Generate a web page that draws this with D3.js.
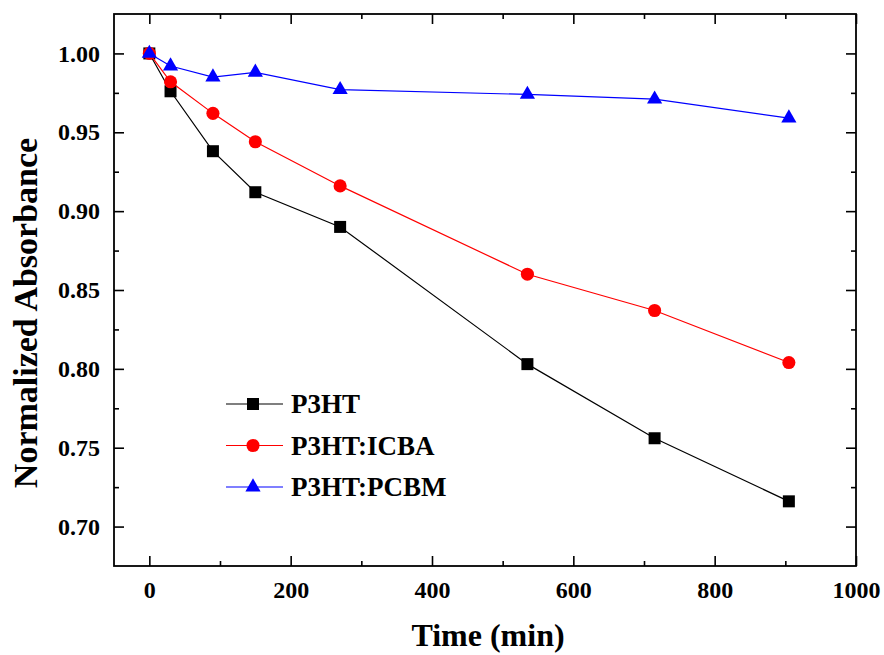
<!DOCTYPE html>
<html>
<head>
<meta charset="utf-8">
<script src="https://cdn.jsdelivr.net/npm/d3@7"></script>
<style>
  body { margin: 0; background: #fff; }
</style>
</head>
<body>
<div id="chart"></div>
<script>
// ---------------- data ----------------
var time  = [0, 30, 90, 150, 270, 535, 715, 905];
var p3ht  = [1.000, 0.976, 0.938, 0.912, 0.890, 0.803, 0.756, 0.716];
var icba  = [1.000, 0.982, 0.962, 0.944, 0.916, 0.860, 0.837, 0.804];
var pcbm  = [1.000, 0.992, 0.985, 0.988, 0.977, 0.974, 0.971, 0.959];
var seriesNames = ["P3HT", "P3HT:ICBA", "P3HT:PCBM"];

var xMajor = [0, 200, 400, 600, 800, 1000];
var xMinor = [100, 300, 500, 700, 900];
var yMajor = [0.70, 0.75, 0.80, 0.85, 0.90, 0.95, 1.00];
var yMinor = [0.725, 0.775, 0.825, 0.875, 0.925, 0.975];

var FONT = '"Liberation Serif", "Times New Roman", serif';

// ---------------- layout ----------------
var W = 884, H = 655;
var margin = {top: 14, right: 28, bottom: 89, left: 114};
var w = W - margin.left - margin.right;
var h = H - margin.top - margin.bottom;

var svg = d3.select("#chart").append("svg").attr("width", W).attr("height", H)
  .style("font-family", FONT).style("font-weight", "bold");
var g = svg.append("g").attr("transform", `translate(${margin.left},${margin.top})`);

var x = d3.scaleLinear().domain([-50, 1000]).range([0, w]);
var y = d3.scaleLinear().domain([0.675, 1.025]).range([h, 0]);

// ---------------- axes ----------------
function styleAxis(sel) {
  sel.attr("font-family", FONT).attr("font-size", 24).attr("font-weight", "bold");
  sel.select(".domain").remove();
  sel.selectAll(".tick line").attr("stroke", "#000").attr("stroke-width", 1.6);
  sel.selectAll(".tick text").attr("fill", "#000");
}

// bottom (with labels)
g.append("g").attr("transform", `translate(0,${h})`)
  .call(d3.axisBottom(x).tickValues(xMajor).tickSize(-10).tickPadding(15).tickFormat(d3.format("d")))
  .call(styleAxis);
g.append("g").attr("transform", `translate(0,${h})`)
  .call(d3.axisBottom(x).tickValues(xMinor).tickSize(-5).tickFormat(""))
  .call(styleAxis);
// top
g.append("g")
  .call(d3.axisTop(x).tickValues(xMajor).tickSize(-10).tickFormat(""))
  .call(styleAxis);
g.append("g")
  .call(d3.axisTop(x).tickValues(xMinor).tickSize(-5).tickFormat(""))
  .call(styleAxis);
// left (with labels)
g.append("g")
  .call(d3.axisLeft(y).tickValues(yMajor).tickSize(-10).tickPadding(14).tickFormat(d3.format(".2f")))
  .call(styleAxis);
g.append("g")
  .call(d3.axisLeft(y).tickValues(yMinor).tickSize(-5).tickFormat(""))
  .call(styleAxis);
// right
g.append("g").attr("transform", `translate(${w},0)`)
  .call(d3.axisRight(y).tickValues(yMajor).tickSize(-10).tickFormat(""))
  .call(styleAxis);
g.append("g").attr("transform", `translate(${w},0)`)
  .call(d3.axisRight(y).tickValues(yMinor).tickSize(-5).tickFormat(""))
  .call(styleAxis);

// frame
g.append("rect").attr("width", w).attr("height", h)
  .attr("fill", "none").attr("stroke", "#000").attr("stroke-width", 1.8);

// ---------------- series ----------------
var series = [
  {name: seriesNames[0], values: p3ht, color: "#000000", symbol: d3.symbolSquare,   size: 144},
  {name: seriesNames[1], values: icba, color: "#ff0000", symbol: d3.symbolCircle,   size: 135},
  {name: seriesNames[2], values: pcbm, color: "#0000ff", symbol: d3.symbolTriangle, size: 100}
];

var line = d3.line().x(d => x(d[0])).y(d => y(d[1]));

series.forEach(function(s) {
  var pts = time.map((t, i) => [t, s.values[i]]);
  g.append("path").datum(pts)
    .attr("d", line)
    .attr("fill", "none")
    .attr("stroke", s.color)
    .attr("stroke-width", 1.2);
  g.selectAll(null).data(pts).enter()
    .append("path")
    .attr("d", d3.symbol().type(s.symbol).size(s.size))
    .attr("transform", d => `translate(${x(d[0])},${y(d[1])})`)
    .attr("fill", s.color);
});

// ---------------- legend ----------------
var legend = svg.append("g").attr("transform", "translate(226,404)");
series.forEach(function(s, i) {
  var row = legend.append("g").attr("transform", `translate(0,${i * 41.5})`);
  row.append("line").attr("x1", 0).attr("x2", 57).attr("y1", 0).attr("y2", 0)
    .attr("stroke", s.color).attr("stroke-width", 1.2);
  row.append("path")
    .attr("d", d3.symbol().type(s.symbol).size(s.size))
    .attr("transform", "translate(27,0)")
    .attr("fill", s.color);
  row.append("text").attr("x", 65).attr("dy", "0.35em")
    .attr("font-size", 27)
    .text(s.name);
});

// ---------------- titles ----------------
svg.append("text")
  .attr("x", margin.left + w / 2 + 3).attr("y", 646)
  .attr("text-anchor", "middle")
  .attr("font-size", 32)
  .text("Time (min)");

svg.append("text")
  .attr("transform", "translate(37,313) rotate(-90)")
  .attr("text-anchor", "middle")
  .attr("font-size", 34)
  .text("Normalized Absorbance");
</script>
</body>
</html>
